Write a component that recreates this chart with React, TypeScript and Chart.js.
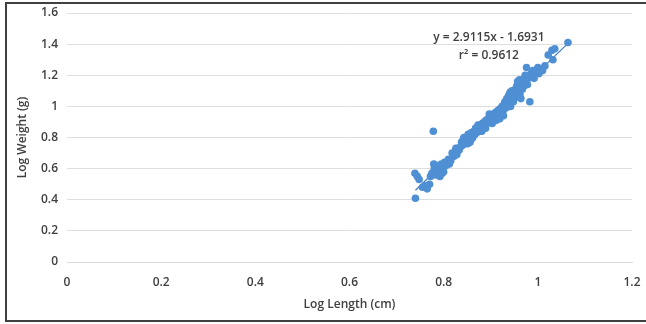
import React, { useEffect, useRef } from "react";
import { Chart, registerables } from "chart.js";

Chart.register(...registerables);

const lengthLog: number[] = [
  0.740, 0.739, 0.744, 0.748, 0.755, 0.760, 0.765, 0.770, 0.772, 0.775,
  0.778, 0.780, 0.782, 0.785, 0.788, 0.790, 0.792, 0.795, 0.798, 0.800,
  0.802, 0.805, 0.810, 0.815, 0.818, 0.822, 0.825, 0.828, 0.830, 0.833,
  0.836, 0.838, 0.840, 0.842, 0.845, 0.847, 0.850, 0.852, 0.854, 0.856,
  0.858, 0.860, 0.862, 0.864, 0.866, 0.868, 0.870, 0.872, 0.874, 0.876,
  0.878, 0.880, 0.882, 0.884, 0.886, 0.888, 0.890, 0.892, 0.894, 0.896,
  0.898, 0.900, 0.902, 0.904, 0.906, 0.908, 0.910, 0.912, 0.914, 0.916,
  0.918, 0.920, 0.922, 0.924, 0.926, 0.928, 0.930, 0.932, 0.934, 0.936,
  0.938, 0.940, 0.942, 0.944, 0.946, 0.948, 0.950, 0.952, 0.954, 0.956,
  0.958, 0.960, 0.962, 0.964, 0.966, 0.968, 0.970, 0.972, 0.974, 0.976,
  0.978, 0.980, 0.983, 0.985, 0.988, 0.990, 0.995, 1.000, 1.005, 1.010,
  1.015, 1.022, 1.030, 1.032, 1.036, 1.064,
  0.779, 0.787, 0.797, 0.812, 0.826, 0.843, 0.851, 0.859, 0.867, 0.873,
  0.881, 0.889, 0.897, 0.903, 0.911, 0.919, 0.927, 0.933, 0.941, 0.949,
  0.955, 0.961, 0.967, 0.973, 0.979, 0.992, 1.002, 0.964, 0.957, 0.945,
];

const weightLog: number[] = [
  0.41, 0.57, 0.55, 0.53, 0.48, 0.49, 0.47, 0.50, 0.55, 0.57,
  0.84, 0.60, 0.56, 0.62, 0.58, 0.61, 0.55, 0.63, 0.60, 0.58,
  0.64, 0.62, 0.66, 0.65, 0.70, 0.68, 0.71, 0.69, 0.73, 0.72,
  0.74, 0.77, 0.75, 0.79, 0.76, 0.80, 0.78, 0.82, 0.79, 0.77,
  0.83, 0.81, 0.80, 0.84, 0.82, 0.86, 0.83, 0.85, 0.87, 0.84,
  0.88, 0.86, 0.89, 0.87, 0.90, 0.88, 0.91, 0.89, 0.92, 0.90,
  0.93, 0.91, 0.94, 0.92, 0.95, 0.93, 0.96, 0.94, 0.97, 0.95,
  0.98, 0.96, 0.99, 1.00, 0.97, 1.01, 1.03, 0.99, 1.05, 1.02,
  1.07, 1.04, 1.00, 1.06, 1.08, 1.03, 1.09, 1.11, 1.06, 1.12,
  1.10, 1.14, 1.08, 1.15, 1.12, 1.17, 1.13, 1.16, 1.19, 1.25,
  1.14, 1.18, 1.03, 1.21, 1.20, 1.23, 1.22, 1.25, 1.24, 1.23,
  1.26, 1.33, 1.36, 1.30, 1.37, 1.41,
  0.63, 0.56, 0.57, 0.63, 0.73, 0.80, 0.76, 0.79, 0.85, 0.88,
  0.84, 0.86, 0.95, 0.89, 0.91, 0.92, 0.94, 1.02, 1.09, 1.05,
  1.13, 1.17, 1.11, 1.20, 1.19, 1.18, 1.21, 1.05, 1.16, 1.10,
];

const trendX: number[] = [0.74, 1.064];
const trendY: number[] = [0.4614, 1.4047];

const equationText = "y = 2.9115x - 1.6931";
const rSquaredText = "r² = 0.9612";
const labelAnchor: number[] = [0.896, 1.44, 1.324];

const xTitle = "Log Length (cm)";
const yTitle = "Log Weight (g)";

const FONT = "'Open Sans', 'DejaVu Sans', sans-serif";
const TEXT = "#3f3f3f";

const annotationPlugin = {
  id: "eqLabel",
  afterDatasetsDraw(chart: any) {
    const { ctx, scales } = chart;
    const x = scales.x.getPixelForValue(labelAnchor[0]);
    const y1 = scales.y.getPixelForValue(labelAnchor[1]);
    const y2 = scales.y.getPixelForValue(labelAnchor[2]);
    ctx.save();
    ctx.font = `600 12px ${FONT}`;
    ctx.fillStyle = TEXT;
    ctx.textAlign = "center";
    ctx.textBaseline = "middle";
    ctx.fillText(equationText, x, y1);
    ctx.fillText(rSquaredText, x, y2);
    ctx.restore();
  },
};

export default function App() {
  const canvasRef = useRef<HTMLCanvasElement | null>(null);

  useEffect(() => {
    if (!canvasRef.current) return;
    const points = lengthLog.map((x, i) => ({ x, y: weightLog[i] }));
    const trend = trendX.map((x, i) => ({ x, y: trendY[i] }));
    const chart = new Chart(canvasRef.current, {
      type: "scatter",
      data: {
        datasets: [
          {
            data: points,
            backgroundColor: "#4f8fd3",
            borderColor: "#4f8fd3",
            pointRadius: 3.8,
            pointBorderWidth: 0,
          },
          {
            type: "line",
            data: trend,
            borderColor: "#3c7cc0",
            borderWidth: 1.2,
            pointRadius: 0,
            showLine: true,
            fill: false,
          } as any,
        ],
      },
      options: {
        responsive: false,
        animation: false,
        devicePixelRatio: 1,
        layout: { autoPadding: false, padding: { left: 11, right: 14, top: 13, bottom: 0 } },
        plugins: {
          legend: { display: false },
          tooltip: { enabled: false },
        },
        scales: {
          x: {
            type: "linear",
            min: 0,
            max: 1.2,
            ticks: {
              stepSize: 0.2,
              padding: 13,
              color: TEXT,
              font: { family: FONT, size: 12, weight: 600 as any },
              callback: (v: any) => String(Math.round(Number(v) * 10) / 10),
            },
            grid: { display: false, drawTicks: false },
            border: { display: true, color: "#d9d9d9", width: 1 },
            title: {
              display: true,
              text: xTitle,
              color: TEXT,
              font: { family: FONT, size: 12, weight: 600 as any },
              padding: { top: 0, bottom: 12 },
            },
            afterFit: (scale: any) => {
              scale.height = 62;
              scale.paddingLeft = 0;
              scale.paddingRight = 0;
            },
          },
          y: {
            type: "linear",
            min: 0,
            max: 1.6,
            ticks: {
              stepSize: 0.2,
              padding: 9,
              color: TEXT,
              font: { family: FONT, size: 12, weight: 600 as any },
              callback: (v: any) => String(Math.round(Number(v) * 10) / 10),
            },
            grid: { color: "#dedede", lineWidth: 1, drawTicks: false },
            border: { display: false },
            title: {
              display: true,
              text: yTitle,
              color: TEXT,
              font: { family: FONT, size: 12, weight: 600 as any },
              padding: { top: 4, bottom: 0 },
            },
            afterFit: (scale: any) => {
              scale.width = 56;
              scale.paddingTop = 0;
              scale.paddingBottom = 0;
            },
          },
        },
      },
      plugins: [annotationPlugin],
    });
    return () => chart.destroy();
  }, []);

  return (
    <div
      style={{
        position: "fixed",
        left: 0,
        top: 0,
        width: 646,
        height: 324,
        overflow: "hidden",
        background: "#fff",
      }}
    >
      <canvas
        ref={canvasRef}
        width={646}
        height={324}
        style={{ position: "absolute", left: 0, top: 0, width: 646, height: 324 }}
      />
      <div
        style={{
          position: "absolute",
          left: 5,
          top: 2,
          width: 660,
          height: 316,
          border: "2px solid #404040",
          pointerEvents: "none",
        }}
      />
    </div>
  );
}
